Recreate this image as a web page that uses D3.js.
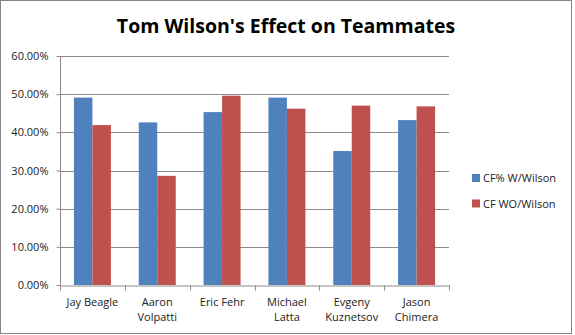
<!DOCTYPE html>
<html>
<head>
<meta charset="utf-8">
<script src="https://cdn.jsdelivr.net/npm/d3@7"></script>
<style>
  html, body { margin: 0; padding: 0; background: #fff; }
  svg { display: block; }
</style>
</head>
<body>
<svg id="chart" width="575" height="335"></svg>
<script>
// Teammates and their Corsi-for share with and without Tom Wilson
const players = [["Jay", "Beagle"], ["Aaron", "Volpatti"], ["Eric", "Fehr"], ["Michael", "Latta"], ["Evgeny", "Kuznetsov"], ["Jason", "Chimera"]];
const playerNames = ["Jay Beagle", "Aaron Volpatti", "Eric Fehr", "Michael Latta", "Evgeny Kuznetsov", "Jason Chimera"];
const cfWith = [0.491, 0.426, 0.453, 0.491, 0.351, 0.432];
const cfWithout = [0.419, 0.286, 0.496, 0.462, 0.470, 0.468];
const seriesNames = ["CF% W/Wilson", "CF WO/Wilson"];
const yTicks = [0, 0.1, 0.2, 0.3, 0.4, 0.5, 0.6];

const colors = ["#4F81BD", "#C0504D"];
const font = "'Open Sans', 'DejaVu Sans', sans-serif";

const svg = d3.select("#chart");

// outer chart frame
svg.append("rect")
  .attr("x", 0.5).attr("y", 0.5)
  .attr("width", 571).attr("height", 333)
  .attr("fill", "#fff").attr("stroke", "#868686").attr("stroke-width", 1);

const plot = { left: 60, right: 449, top: 56, bottom: 285 };

const x = d3.scaleBand().domain(playerNames).range([plot.left, plot.right]).paddingInner(0).paddingOuter(0);
const inner = d3.scaleBand().domain([0, 1]).range([0, 37]);
const y = d3.scaleLinear().domain([0, 0.6]).range([plot.bottom, plot.top]);

// horizontal gridlines
svg.append("g").selectAll("line").data(yTicks.filter(d => d > 0)).join("line")
  .attr("x1", plot.left).attr("x2", plot.right)
  .attr("y1", d => Math.round(y(d)) + 0.5).attr("y2", d => Math.round(y(d)) + 0.5)
  .attr("stroke", "#8c8c8c").attr("stroke-width", 1);

// bars
const rows = playerNames.map((name, i) => ({ name, values: [cfWith[i], cfWithout[i]] }));
const groups = svg.append("g").selectAll("g").data(rows).join("g")
  .attr("transform", d => `translate(${x(d.name) + (x.bandwidth() - 37) / 2},0)`);
groups.selectAll("rect").data(d => d.values.map((v, k) => ({ v, k }))).join("rect")
  .attr("x", d => inner(d.k))
  .attr("width", inner.bandwidth())
  .attr("y", d => y(d.v))
  .attr("height", d => y(0) - y(d.v))
  .attr("fill", d => colors[d.k]);

// y axis
const yAxis = svg.append("g")
  .attr("transform", `translate(${plot.left + 0.5},0)`)
  .call(d3.axisLeft(y).tickValues(yTicks).tickFormat(d3.format(".2%")).tickSize(4).tickPadding(8));
yAxis.select(".domain").attr("stroke", "#8c8c8c").attr("d", `M0,${plot.top}V${plot.bottom}`);
yAxis.selectAll(".tick line").attr("stroke", "#8c8c8c");
yAxis.selectAll("text").attr("font-family", font).attr("font-size", 11).attr("fill", "#222");

// x axis
const xAxis = svg.append("g")
  .attr("transform", `translate(0,${plot.bottom + 0.5})`)
  .call(d3.axisBottom(x).tickSize(0).tickFormat(""));
xAxis.select(".domain").attr("stroke", "#8c8c8c");
xAxis.selectAll(".tick").remove();
const bounds = x.domain().map(d => x(d)).concat([plot.right]);
xAxis.selectAll("line.sep").data(bounds).join("line")
  .attr("class", "sep")
  .attr("x1", d => Math.round(d) + 0.5).attr("x2", d => Math.round(d) + 0.5)
  .attr("y1", 0).attr("y2", 5)
  .attr("stroke", "#8c8c8c");

// category labels (wrapped over two lines)
const labels = svg.append("g").selectAll("text").data(playerNames).join("text")
  .attr("x", d => x(d) + x.bandwidth() / 2)
  .attr("y", 306)
  .attr("text-anchor", "middle")
  .attr("font-family", font).attr("font-size", 11).attr("fill", "#222");
labels.each(function (d, i) {
  const parts = players[i];
  const t = d3.select(this);
  if (d === "Jay Beagle" || d === "Eric Fehr") {
    t.append("tspan").attr("x", x(d) + x.bandwidth() / 2).attr("dy", 0).text(d);
  } else {
    t.append("tspan").attr("x", x(d) + x.bandwidth() / 2).attr("dy", 0).text(parts[0]);
    t.append("tspan").attr("x", x(d) + x.bandwidth() / 2).attr("dy", 15).text(parts[1]);
  }
});

// title
svg.append("text")
  .attr("x", 286).attr("y", 33)
  .attr("text-anchor", "middle")
  .attr("font-family", font).attr("font-weight", "bold").attr("font-size", 19.5)
  .attr("fill", "#000")
  .text("Tom Wilson's Effect on Teammates");

// legend
const legend = svg.append("g").selectAll("g").data(seriesNames).join("g")
  .attr("transform", (d, i) => `translate(472,${174 + i * 25.5})`);
legend.append("rect").attr("width", 8).attr("height", 8).attr("fill", (d, i) => colors[i]);
legend.append("text")
  .attr("x", 11).attr("y", 8)
  .attr("font-family", font).attr("font-size", 11).attr("fill", "#222")
  .text(d => d);
</script>
</body>
</html>
